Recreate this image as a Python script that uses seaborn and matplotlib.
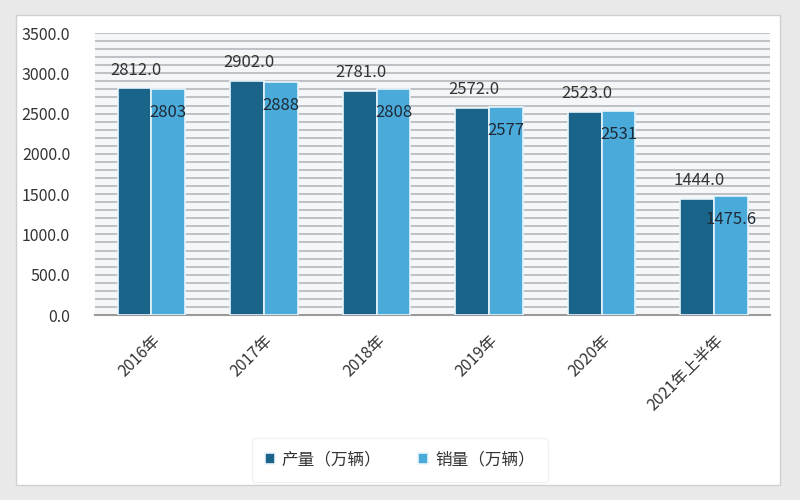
import matplotlib
matplotlib.use("Agg")
import matplotlib.pyplot as plt
import seaborn as sns
import pandas as pd
from matplotlib.patches import Rectangle
from matplotlib.ticker import MultipleLocator, FormatStrFormatter

categories = ["2016年", "2017年", "2018年", "2019年", "2020年", "2021年上半年"]
production = [2812.0, 2902.0, 2781.0, 2572.0, 2523.0, 1444.0]
sales = [2803, 2888, 2808, 2577, 2531, 1475.6]
production_labels = ["2812.0", "2902.0", "2781.0", "2572.0", "2523.0", "1444.0"]
sales_labels = ["2803", "2888", "2808", "2577", "2531", "1475.6"]
series_names = ["产量（万辆）", "销量（万辆）"]
colors = ["#1b6489", "#4aaad9"]

df = pd.DataFrame({
    "cat": categories * 2,
    "val": production + sales,
    "series": [series_names[0]] * len(categories) + [series_names[1]] * len(categories),
})

sns.set_theme(style="white")
plt.rcParams["font.family"] = ["Noto Sans CJK SC", "DejaVu Sans"]

fig = plt.figure(figsize=(8, 5), dpi=100)
fig.patch.set_facecolor("#e9e9e9")
bg = Rectangle((0.02, 0.03), 0.955, 0.94, transform=fig.transFigure,
               facecolor="white", edgecolor="#d0d0d0", lw=1, zorder=-10)
fig.patches.append(bg)

ax = fig.add_axes([0.119, 0.37, 0.844, 0.564])
ax.set_zorder(1)
ax.set_facecolor("#f4f6f8")
sns.barplot(data=df, x="cat", y="val", hue="series", palette=colors, width=0.6,
            saturation=1, ax=ax, edgecolor="#e8f4fa", linewidth=1.2, legend=True, zorder=3)

ax.set_ylim(0, 3500)
ax.yaxis.set_major_locator(MultipleLocator(500))
ax.yaxis.set_minor_locator(MultipleLocator(100))
ax.yaxis.set_major_formatter(FormatStrFormatter("%.1f"))
ax.grid(axis="y", which="both", color="#b4b8be", lw=1.2, zorder=0)
ax.set_axisbelow(True)
for s in ["top", "right", "left"]:
    ax.spines[s].set_visible(False)
ax.spines["bottom"].set_color("#9a9a9a")
ax.spines["bottom"].set_linewidth(1.5)
ax.set_xlabel("")
ax.set_ylabel("")
ax.tick_params(axis="y", which="both", labelsize=11.5, colors="#333333", length=0, pad=18)
ax.tick_params(axis="x", labelsize=11.5, colors="#333333", length=0, pad=12)
plt.setp(ax.get_xticklabels(), rotation=45, ha="right", rotation_mode="anchor")

c_prod, c_sales = ax.containers[0], ax.containers[1]
for rect, txt in zip(c_prod, production_labels):
    ax.annotate(txt, (rect.get_x() + rect.get_width() * 0.55, rect.get_height()),
                xytext=(0, 7), textcoords="offset points", ha="center", va="bottom",
                fontsize=12, color="#333333", zorder=5)
for rect, txt in zip(c_sales, sales_labels):
    ax.annotate(txt, (rect.get_x() + rect.get_width() * 0.5, rect.get_height()),
                xytext=(0, -17), textcoords="offset points", ha="center", va="center",
                fontsize=12, color="#1f2a36", zorder=5)

handles, labels = ax.get_legend_handles_labels()
ax.get_legend().remove()
leg = fig.legend(handles, labels, loc="center", bbox_to_anchor=(0.5, 0.08), ncol=2,
                 frameon=True, fontsize=12, handlelength=0.6, handleheight=0.6,
                 columnspacing=2.2, handletextpad=0.4, borderpad=0.8)
leg.get_frame().set_edgecolor("#eeeeee")
leg.get_frame().set_facecolor("white")
for t in leg.get_texts():
    t.set_color("#333333")

fig.savefig("out.png", dpi=100, facecolor=fig.get_facecolor())
